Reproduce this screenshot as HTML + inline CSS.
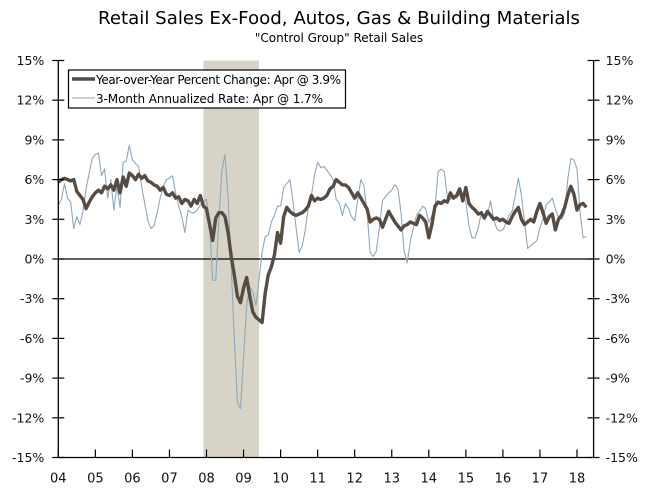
<!DOCTYPE html>
<html><head><meta charset="utf-8"><style>
html,body{margin:0;padding:0;background:#fff;}
svg{display:block;font-family:"DejaVu Sans","Liberation Sans",sans-serif;}
</style></head><body>
<svg id="chart" width="672" height="493" viewBox="0 0 672 493" xmlns="http://www.w3.org/2000/svg">
<text x="339" y="24" text-anchor="middle" font-size="17.5" fill="#000" textLength="482" lengthAdjust="spacingAndGlyphs">Retail Sales Ex-Food, Autos, Gas &amp; Building Materials</text>
<text x="339" y="42" text-anchor="middle" font-size="12" fill="#000">"Control Group" Retail Sales</text>
<g id="plot"></g>
</svg>
<script>
const years = ["04","05","06","07","08","09","10","11","12","13","14","15","16","17","18"];
const yTicks = [15,12,9,6,3,0,-3,-6,-9,-12,-15];
const recessionStart = 47; // month index Dec 2007
const recessionEnd = 65;   // month index Jun 2009
const yoy = [
5.8,6.0,6.1,6.0,5.9,6.0,5.1,4.8,4.5,3.8,4.3,4.7,
5.0,5.2,5.0,5.5,5.3,5.6,5.2,6.0,5.0,6.2,5.5,6.5,
6.3,6.0,6.4,6.1,6.3,5.9,5.8,5.6,5.5,5.2,5.4,4.9,
4.8,5.0,4.6,4.7,4.2,4.5,4.4,4.0,4.5,4.2,4.8,4.0,
3.8,2.6,1.4,3.1,3.5,3.5,3.2,2.0,0.2,-1.2,-2.8,-3.3,
-2.2,-1.4,-2.8,-4.0,-4.4,-4.6,-4.8,-2.6,-1.2,-0.6,0.3,2.0,
1.2,3.2,3.9,3.6,3.4,3.3,3.4,3.5,3.7,4.0,4.8,4.4,
4.6,4.5,4.6,4.8,5.3,5.5,6.0,5.8,5.6,5.6,5.4,5.0,
4.6,5.0,4.6,4.2,3.8,2.8,3.0,3.1,3.0,2.4,3.0,3.6,
3.2,2.8,2.5,2.2,2.5,2.6,2.8,2.7,2.6,3.3,3.1,2.8,
1.6,2.6,4.0,4.3,4.2,4.4,4.3,5.0,4.6,4.8,5.3,4.4,
5.4,4.2,3.9,3.7,3.4,3.5,3.1,3.6,3.3,3.0,3.1,2.9,
3.0,2.8,2.7,3.2,3.6,3.9,3.0,2.6,2.8,3.0,2.8,3.6,
4.2,3.5,2.7,3.2,3.4,2.2,3.0,3.3,3.9,4.8,5.5,4.9,
3.7,4.1,4.2,3.9];
const threeMonth = [
4.1,4.5,5.7,4.6,4.3,2.3,3.2,2.6,3.6,5.3,6.5,7.6,
7.9,8.0,6.3,6.8,4.6,6.0,3.7,5.5,3.9,7.3,7.4,8.6,
7.5,7.2,7.0,5.5,4.2,2.9,2.3,2.5,3.5,4.6,5.5,6.0,
6.1,6.3,5.0,4.0,3.2,2.0,3.7,3.5,3.5,3.7,4.1,4.3,
4.5,2.5,-1.6,-1.6,3.0,6.7,7.9,4.6,-0.5,-6.0,-10.8,-11.3,
-7.5,-3.5,-2.1,-2.5,-3.5,-1.6,0.5,1.7,1.8,2.8,3.3,4.0,
4.0,5.4,5.7,6.0,4.4,2.4,0.5,1.0,2.2,4.0,4.8,6.4,
7.3,6.9,7.0,6.7,6.4,6.0,4.5,4.2,3.3,4.2,3.8,3.2,
2.9,4.5,6.0,5.5,3.6,0.5,0.2,0.6,2.4,4.4,4.7,5.0,
5.2,5.6,5.3,3.5,0.6,-0.3,1.3,2.3,3.3,3.6,4.0,3.8,
2.8,3.3,3.8,6.6,6.8,6.6,4.7,4.5,4.8,4.6,4.9,5.0,
4.3,2.5,1.6,1.6,2.3,3.5,3.0,3.3,4.4,3.0,2.3,2.1,
2.2,2.7,3.3,3.6,4.8,6.1,4.8,2.8,0.8,1.0,1.2,1.4,
2.4,3.0,4.1,4.3,4.6,3.8,3.1,3.0,3.5,6.0,7.6,7.5,
6.8,3.5,1.6,1.7];

const NS="http://www.w3.org/2000/svg";
const L=58.3,R=593.6,T=60.5,B=457.5,monthW=37.05/12;
function xScale(m){return L+m*monthW;}
function yScale(v){return (T+B)/2 - v*(B-T)/30;}
const plot=document.getElementById('plot');
function mk(tag,attrs,parent){const e=document.createElementNS(NS,tag);for(const k in attrs)e.setAttribute(k,attrs[k]);(parent||plot).appendChild(e);return e;}

const rec=mk('rect',{x:xScale(recessionStart),y:T,width:xScale(recessionEnd)-xScale(recessionStart),height:B-T,fill:'#d7d3c7'});



const zero=mk('line',{x1:L,x2:R,y1:yScale(0),y2:yScale(0),stroke:'#000','stroke-width':1.2});



function pathFor(arr){return arr.map((v,i)=>(i?'L':'M')+xScale(i).toFixed(2)+' '+yScale(v).toFixed(2)).join(' ');}
const p3=mk('path',{d:pathFor(threeMonth),fill:'none',stroke:'#8ea8bd','stroke-width':1.1,'stroke-linejoin':'round'});


const py=mk('path',{d:pathFor(yoy),fill:'none',stroke:'#564c43','stroke-width':3.4,'stroke-linejoin':'round'});



const ax=mk('path',{d:`M${L} ${T} L${L} ${B} L${R} ${B} L${R} ${T}`,fill:'none',stroke:'#000','stroke-width':1.3});



yTicks.forEach(v=>{
  const y=yScale(v);
  const lab=v+'%';
  mk('line',{x1:L-6,x2:L+6,y1:y,y2:y,stroke:'#000','stroke-width':1.2});
  mk('line',{x1:R-6,x2:R+6,y1:y,y2:y,stroke:'#000','stroke-width':1.2});
  const t1=mk('text',{x:L-14,y:y+4.5,'text-anchor':'end','font-size':12.5,fill:'#111'});
  t1.textContent=lab;
  
  
  const t2=mk('text',{x:R+12,y:y+4.5,'text-anchor':'start','font-size':12.5,fill:'#111'});
  t2.textContent=lab;
  
  
});
years.forEach((yr,i)=>{
  const x=xScale(i*12);
  mk('line',{x1:x,x2:x,y1:B-8,y2:B,stroke:'#000','stroke-width':1.2});
  const t=mk('text',{x:x,y:B+25,'text-anchor':'middle','font-size':13,fill:'#111'});
  t.textContent=yr;
  
  
});

const lg=mk('g',{});


mk('rect',{x:68.5,y:70,width:277,height:38,fill:'#fff',stroke:'#000','stroke-width':1.2},lg);
mk('line',{x1:72,x2:95,y1:79,y2:79,stroke:'#564c43','stroke-width':3.6},lg);
mk('line',{x1:72,x2:95,y1:98,y2:98,stroke:'#8ea8bd','stroke-width':1.1},lg);
const lt1=mk('text',{x:96,y:84,'font-size':12,fill:'#000',textLength:245,lengthAdjust:'spacing'},lg);
lt1.textContent='Year-over-Year Percent Change: Apr @ 3.9%';


const lt2=mk('text',{x:96,y:103,'font-size':12,fill:'#000',textLength:227,lengthAdjust:'spacing'},lg);
lt2.textContent='3-Month Annualized Rate: Apr @ 1.7%';


</script>
</body></html>
